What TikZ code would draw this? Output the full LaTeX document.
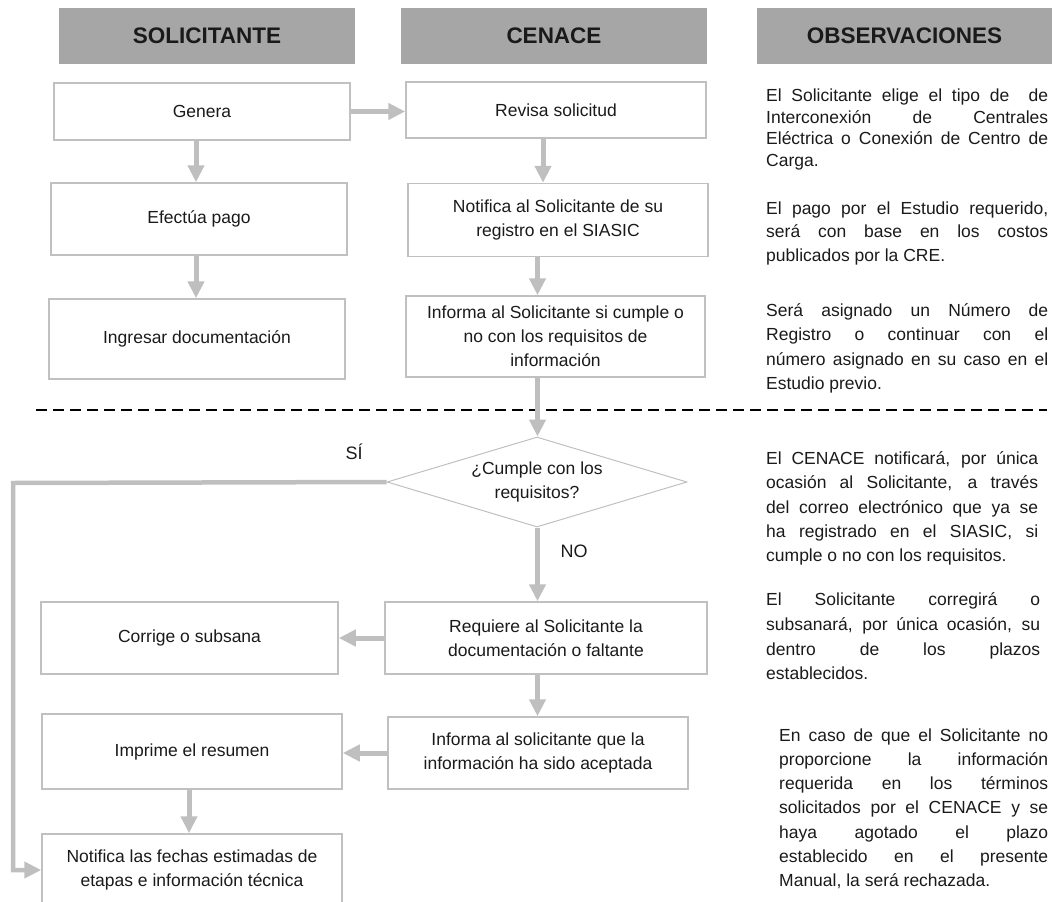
\documentclass[tikz,border=0pt]{standalone}
\usepackage{fontspec}
\setmainfont{Liberation Sans}
\usetikzlibrary{arrows.meta,shapes.geometric}
\definecolor{hdr}{HTML}{A6A6A6}
\definecolor{bx}{HTML}{C0C0C0}
\definecolor{arr}{HTML}{BFBFBF}
\definecolor{txt}{HTML}{1A1A1A}
\begin{document}
\begin{tikzpicture}[x=1pt,y=-1pt,
  hdrbox/.style={fill=hdr, inner sep=0pt, minimum height=56pt, font=\fontsize{22.5}{26}\selectfont\bfseries, text=txt},
  stepbox/.style={draw=bx, line width=1.5pt, inner sep=0pt, align=center, font=\fontsize{17.5}{24}\selectfont, text=txt},
  flow/.style={draw=arr, line width=5pt, -{Triangle[length=17pt,width=16pt]}},
  obs/.style={anchor=north west, inner sep=0pt, align=justify, text=txt},
  lbl/.style={inner sep=0pt, font=\fontsize{18}{22}\selectfont, text=txt}
]
\useasboundingbox (0,0) rectangle (1052,902);

% headers
\node[hdrbox, minimum width=296pt] (hsol) at (207,36) {SOLICITANTE};
\node[hdrbox, minimum width=306pt] (hcen) at (554,36) {CENACE};
\node[hdrbox, minimum width=295pt] (hobs) at (904.5,36) {OBSERVACIONES};

% left column
\node[stepbox, minimum width=296pt, minimum height=57pt] (gen) at (202,111.5) {Genera};
\node[stepbox, minimum width=296pt, minimum height=72pt] (efe) at (199,219) {Efectúa pago};
\node[stepbox, minimum width=296pt, minimum height=80pt] (ing) at (197,339) {Ingresar documentación};

% center column
\node[stepbox, minimum width=300pt, minimum height=56pt] (rev) at (556,110) {Revisa solicitud};
\node[stepbox, minimum width=300pt, minimum height=73pt] (not) at (558,220) {Notifica al Solicitante de su\\registro en el SIASIC};
\node[stepbox, minimum width=299pt, minimum height=81pt] (inf) at (555.5,336.5) {Informa al Solicitante si cumple o\\no con los requisitos de\\información};

% dashed separator
\coordinate (d1) at (36,410);
\coordinate (d2) at (1047,410);
\draw[black, line width=1.5pt, dash pattern=on 11pt off 6pt] (d1) -- (d2);

% decision
\node[diamond, draw=bx, line width=1pt, minimum width=300pt, minimum height=90pt, aspect=3.33, inner sep=0pt, align=center, font=\fontsize{17.5}{23.5}\selectfont, text=txt] (dia) at (537,482) {¿Cumple con los\\requisitos?};
\node[lbl] (si) at (354,452) {SÍ};
\node[lbl] (no) at (574,551) {NO};

% lower boxes
\node[stepbox, minimum width=322pt, minimum height=72pt] (req) at (546,638) {Requiere al Solicitante la\\documentación o faltante};
\node[stepbox, minimum width=300pt, minimum height=72pt] (inf2) at (538,753) {Informa al solicitante que la\\información ha sido aceptada};
\node[stepbox, minimum width=297pt, minimum height=72pt] (cor) at (189.5,638) {Corrige o subsana};
\node[stepbox, minimum width=300pt, minimum height=75pt] (imp) at (192,751.5) {Imprime el resumen};
\node[stepbox, minimum width=300pt, minimum height=72pt] (ntf) at (192,870) {Notifica las fechas estimadas de\\etapas e información técnica};

% guide coordinates for arrow x positions
\coordinate (lx) at (196,0);
\coordinate (lx2) at (189,0);
\coordinate (cx1) at (543,0);
\coordinate (cx2) at (537.5,0);
\coordinate (c1) at (13,483);
\coordinate (c2) at (13,870);

% arrows
\draw[flow] (gen.east) -- (rev.west |- gen.east);
\draw[flow] (lx |- gen.south) -- (lx |- efe.north);
\draw[flow] (lx |- efe.south) -- (lx |- ing.north);
\draw[flow] (cx1 |- rev.south) -- (cx1 |- not.north);
\draw[flow] (cx2 |- not.south) -- (cx2 |- inf.north);
\draw[flow] (cx2 |- inf.south) -- (cx2 |- dia.north);
\draw[flow] (cx2 |- dia.south) -- (cx2 |- req.north);
\draw[flow] (cx2 |- req.south) -- (cx2 |- inf2.north);
\draw[flow] (req.west) -- (cor.east |- req.west);
\draw[flow] (inf2.west) -- (imp.east |- inf2.west);
\draw[flow] (lx2 |- imp.south) -- (lx2 |- ntf.north);
\draw[flow, line width=4.5pt] (dia.west) -- (c1) -- (c2) -- (ntf.west);

% observations
\node[obs, text width=282pt, font=\fontsize{17.5}{21.7}\selectfont] (o1) at (766,88.5)
 {\tolerance=10000 \hyphenpenalty=10000 El Solicitante elige el tipo de \ de\linebreak Interconexión de Centrales\linebreak Eléctrica o Conexión de Centro de\linebreak Carga.};
\node[obs, text width=282pt, font=\fontsize{17.5}{23.5}\selectfont] (o2) at (766,201.5)
 {\tolerance=10000 \hyphenpenalty=10000 El pago por el Estudio requerido,\linebreak será con base en los costos\linebreak publicados por la CRE.};
\node[obs, text width=282pt, font=\fontsize{17.5}{24.3}\selectfont] (o3) at (766,303.5)
 {\tolerance=10000 \hyphenpenalty=10000 Será asignado un Número de\linebreak Registro o continuar con el\linebreak número asignado en su caso en el\linebreak Estudio previo.};
\node[obs, text width=272pt, font=\fontsize{17.5}{24.3}\selectfont] (o4) at (766,451.5)
 {\tolerance=10000 \hyphenpenalty=10000 El CENACE notificará, por única\linebreak ocasión al Solicitante, a través\linebreak del correo electrónico que ya se\linebreak ha registrado en el SIASIC, si\linebreak cumple o no con los requisitos.};
\node[obs, text width=274pt, font=\fontsize{17.5}{24.8}\selectfont] (o5) at (766,592.5)
 {\tolerance=10000 \hyphenpenalty=10000 El Solicitante corregirá o\linebreak subsanará, por única ocasión, su\linebreak dentro de los plazos\linebreak establecidos.};
\node[obs, text width=269pt, font=\fontsize{17.5}{24.2}\selectfont] (o6) at (779,728.5)
 {\tolerance=10000 \hyphenpenalty=10000 En caso de que el Solicitante no\linebreak proporcione la información\linebreak requerida en los términos\linebreak solicitados por el CENACE y se\linebreak haya agotado el plazo\linebreak establecido en el presente\linebreak Manual, la será rechazada.};
\end{tikzpicture}
\end{document}
